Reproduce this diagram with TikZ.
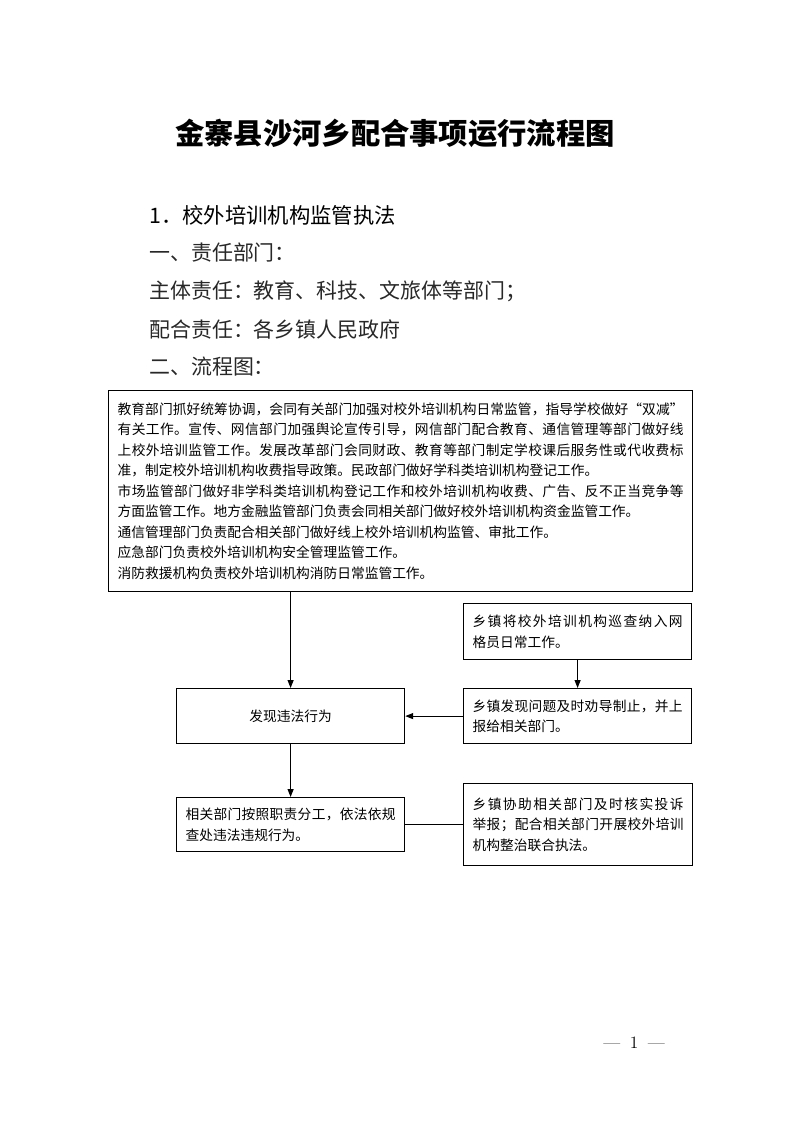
\documentclass[tikz,border=0pt]{standalone}
\usepackage{fontspec}
\newfontfamily\cjk{Noto Sans CJK SC}
\usetikzlibrary{arrows.meta, positioning}
\definecolor{fsgray}{RGB}{40, 40, 40}
% spread one line of CJK text over the full width
\newcommand\spreadline[1]{\leavevmode\hbox to \hsize{\spreadaux#1\relax\unskip}}
\def\spreadaux#1{\ifx#1\relax\else#1\hfil\expandafter\spreadaux\fi}
\tikzset{
  flowbox/.style={draw, line width=0.9pt, rectangle, anchor=north west,
    inner xsep=6.75pt, inner ysep=0pt, align=left,
    font=\cjk\fontsize{10.3}{15.4}\selectfont},
  flowarrow/.style={-{Triangle[length=6pt,width=4.5pt]}, line width=0.8pt},
  fsline/.style={anchor=west, text=fsgray, inner sep=0pt,
    font=\cjk\fontsize{15.7}{18}\selectfont},
}

\begin{document}
\begin{tikzpicture}[x=0.75pt, y=-0.75pt]
        % Page
        \fill[white] (0,0) rectangle (793,1122);
        \useasboundingbox (0,0) rectangle (793,1122);

        % Title and heading lines
        \node[font=\cjk\bfseries\fontsize{22}{27}\selectfont] (title) at (395,133) {金寨县沙河乡配合事项运行流程图};
        \node[anchor=west, inner sep=0pt, font=\cjk\fontsize{16}{19}\selectfont] (item) at (149,215) {1．校外培训机构监管执法};
        \node[fsline] (dept) at (149,253) {一、责任部门：};
        \node[fsline] (main) at (149,291) {主体责任：教育、科技、文旅体等部门；};
        \node[fsline] (coop) at (149,329) {配合责任：各乡镇人民政府};
        \node[fsline] (flow) at (149,367) {二、流程图：};

        % Flow boxes
        \node[flowbox, text width=424.5pt, minimum height=150.75pt] (duty) at (108,390) {\spreadline{教育部门抓好统筹协调，会同有关部门加强对校外培训机构日常监管，指导学校做好“双减”}\\
\spreadline{有关工作。宣传、网信部门加强舆论宣传引导，网信部门配合教育、通信管理等部门做好线}\\
\spreadline{上校外培训监管工作。发展改革部门会同财政、教育等部门制定学校课后服务性或代收费标}\\
准，制定校外培训机构收费指导政策。民政部门做好学科类培训机构登记工作。\\
\spreadline{市场监管部门做好非学科类培训机构登记工作和校外培训机构收费、广告、反不正当竞争等}\\
方面监管工作。地方金融监管部门负责会同相关部门做好校外培训机构资金监管工作。\\
通信管理部门负责配合相关部门做好线上校外培训机构监管、审批工作。\\
应急部门负责校外培训机构安全管理监管工作。\\
消防救援机构负责校外培训机构消防日常监管工作。};
        \node[flowbox, text width=157.5pt, minimum height=42pt] (patrol) at (463,603) {\spreadline{乡镇将校外培训机构巡查纳入网}\\格员日常工作。};
        \node[flowbox, text width=157.5pt, minimum height=41.25pt] (report) at (463,688) {\spreadline{乡镇发现问题及时劝导制止，并上}\\报给相关部门。};
        \node[flowbox, align=center, text width=157.5pt, minimum height=41.25pt] (found) at (176,688) {发现违法行为};
        \node[flowbox, text width=157.5pt, minimum height=40.5pt] (handle) at (176,797) {\spreadline{相关部门按照职责分工，依法依规}\\查处违法违规行为。};
        \node[flowbox, text width=158.25pt, minimum height=61.5pt] (assist) at (463,783) {\spreadline{乡镇协助相关部门及时核实投诉}\\\spreadline{举报；配合相关部门开展校外培训}\\机构整治联合执法。};

        % Connectors
        \draw[flowarrow] (duty.south -| found.north) -- (found.north);
        \draw[flowarrow] (patrol.south) -- (report.north);
        \draw[flowarrow] (report.west) -- (found.east);
        \draw[flowarrow] (found.south) -- (handle.north);
        \draw[line width=0.8pt] (handle.east) -- (assist.west |- handle.east);

        % Page number
        \node[font=\fontsize{13}{16}\selectfont] (pagenum) at (634,1043) {—\hspace{0.55em}1\hspace{0.55em}—};
    \end{tikzpicture}
\end{document}
